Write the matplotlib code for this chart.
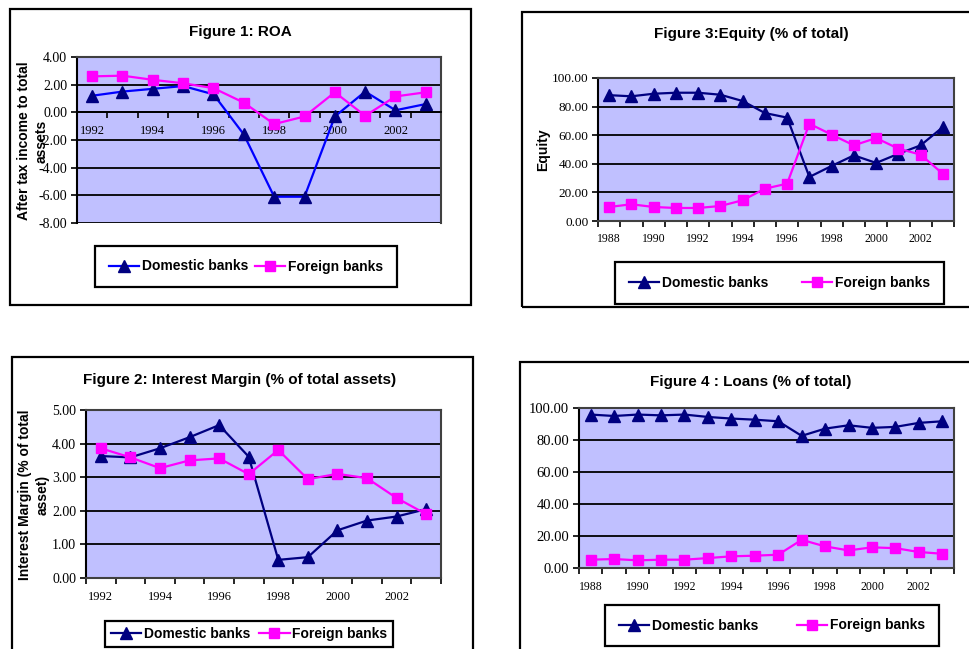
import matplotlib
matplotlib.use("Agg")
import matplotlib.pyplot as plt
from matplotlib.patches import Rectangle
from matplotlib.lines import Line2D
from matplotlib.ticker import FormatStrFormatter
import numpy as np

plt.rcParams['axes.unicode_minus'] = False
plt.rcParams['font.family'] = ['Liberation Serif', 'DejaVu Serif']

# ---- data ----
years_short = list(range(1992, 2004))
years_long = list(range(1988, 2004))

roa_domestic = [1.2, 1.5, 1.7, 1.9, 1.3, -1.6, -6.1, -6.1, -0.3, 1.5, 0.15, 0.6]
roa_foreign = [2.6, 2.65, 2.35, 2.1, 1.75, 0.7, -0.85, -0.3, 1.45, -0.25, 1.15, 1.45]

margin_domestic = [3.63, 3.59, 3.86, 4.19, 4.55, 3.61, 0.54, 0.62, 1.42, 1.71, 1.83, 2.05]
margin_foreign = [3.86, 3.59, 3.27, 3.50, 3.56, 3.09, 3.81, 2.94, 3.10, 2.97, 2.38, 1.90]

equity_domestic = [88, 87.2, 89, 89.7, 89.7, 88.3, 83.9, 75.5, 72.3, 30.8, 38.5, 45.9, 40.6, 47, 52.9, 65.7]
equity_foreign = [9.8, 11.7, 9.8, 9.1, 9.1, 10.5, 14.5, 22.6, 26.1, 68, 60.4, 52.9, 58, 50.6, 46.4, 33]

loans_domestic = [95.9, 95.0, 95.9, 95.4, 95.9, 94.4, 93.4, 92.7, 91.7, 82.6, 87.1, 89.2, 87.6, 88.2, 90.7, 91.7]
loans_foreign = [5.2, 5.6, 4.8, 5.2, 5.2, 6.2, 7.3, 7.7, 8.3, 17.6, 13.5, 11.0, 12.9, 12.4, 10.0, 8.9]

legend_labels = ['Domestic banks', 'Foreign banks']

W, H = 970, 649
fig = plt.figure(figsize=(W / 100, H / 100), dpi=100)

BG = '#C0C0FF'
NAVY = '#000080'
BLUE = '#0000FF'
MAG = '#FF00FF'
SANS = ['Liberation Sans', 'DejaVu Sans']


def box(x0, y0, x1, y1):
    # pixel corners (top-left origin) -> figure fraction rect
    return [x0 / W, 1 - y1 / H, (x1 - x0) / W, (y1 - y0) / H]


def panel(frame, plot, title, title_xy, years, dom, forg, ylim, ystep,
          ylabel, ylabel_xy, leg, dom_color=NAVY, zero_axis=False,
          xsize=9, ysize=10, legpad=1.0):
    r = box(*frame)
    fig.add_artist(Rectangle(r[:2], r[2], r[3], transform=fig.transFigure,
                             fill=False, ec='black', lw=1.6))
    ax = fig.add_axes(box(*plot))
    ax.set_facecolor(BG)
    x = np.arange(len(years))
    ax.plot(x, dom, color=dom_color, lw=1.6, marker='^', ms=8.5,
            mfc=NAVY, mec=NAVY, zorder=3)
    ax.plot(x, forg, color=MAG, lw=1.6, marker='s', ms=7,
            mfc=MAG, mec=MAG, zorder=3)

    ax.set_xlim(-0.5, len(years) - 0.5)
    ax.set_xticks(np.arange(-0.5, len(years), 1))
    ax.set_xticks(x[::2], minor=True)
    ax.set_xticklabels([str(y) for y in years[::2]], minor=True)
    ax.tick_params(axis='x', which='major', length=4, width=1.2,
                   direction='out', labelbottom=False)
    ax.tick_params(axis='x', which='minor', length=0, pad=9, labelsize=xsize)

    ax.set_ylim(*ylim)
    ax.set_yticks(np.arange(ylim[0], ylim[1] + ystep / 2, ystep))
    ax.yaxis.set_major_formatter(FormatStrFormatter('%.2f'))
    ax.tick_params(axis='y', length=4, width=1.2, direction='out',
                   pad=3, labelsize=ysize)

    ax.set_axisbelow(True)
    ax.yaxis.grid(True, color='black', lw=1.3)
    for s in ax.spines.values():
        s.set_color('#404040')
        s.set_linewidth(1.5)
    ax.spines['left'].set_color('black')
    if zero_axis:
        ax.spines['bottom'].set_position(('data', 0))
        ax.spines['bottom'].set_color('black')
        ax.spines['bottom'].set_linewidth(1.3)

    fig.text(title_xy[0] / W, 1 - title_xy[1] / H, title, ha='center',
             va='center', family=SANS, weight='bold', fontsize=11)
    if ylabel:
        fig.text(ylabel_xy[0] / W, 1 - ylabel_xy[1] / H, ylabel, rotation=90,
                 ha='center', va='center', multialignment='center',
                 family=SANS, weight='bold', fontsize=10, linespacing=1.3)

    handles = [Line2D([], [], color=dom_color, lw=1.6, marker='^', ms=8.5,
                      mfc=NAVY, mec=NAVY),
               Line2D([], [], color=MAG, lw=1.6, marker='s', ms=7,
                      mfc=MAG, mec=MAG)]
    lg = fig.legend(handles, legend_labels, loc='center',
                    bbox_to_anchor=box(*leg), bbox_transform=fig.transFigure,
                    mode='expand', ncol=2, fancybox=False, edgecolor='black',
                    framealpha=1, prop={'family': SANS, 'weight': 'bold', 'size': 10},
                    handlelength=2.2, handletextpad=0.2, borderpad=legpad)
    lg.get_frame().set_linewidth(1.6)
    return ax


panel((10, 9, 471, 305), (77, 57, 441, 223), 'Figure 1: ROA', (240, 32),
      years_short, roa_domestic, roa_foreign, (-8, 4), 2,
      'After tax income to total\nassets', (33, 141), (88, 246, 404, 287),
      dom_color=BLUE, zero_axis=True, xsize=9, ysize=10)

panel((522, 12, 990, 307), (598, 78, 954, 221), 'Figure 3:Equity (% of total)',
      (751, 34), years_long, equity_domestic, equity_foreign, (0, 100), 20,
      'Equity', (543, 150), (608, 263, 951, 303), xsize=8.5, ysize=9.5)

panel((12, 357, 473, 670), (86, 410, 441, 578),
      'Figure 2: Interest Margin (% of total assets)', (240, 380),
      years_short, margin_domestic, margin_foreign, (0, 5), 1,
      'Interest Margin (% of total\nasset)', (34, 495), (98, 620, 400, 648),
      xsize=9, ysize=10, legpad=0.4)

panel((520, 362, 990, 670), (579, 408, 954, 568), 'Figure 4 : Loans (% of total)',
      (751, 382), years_long, loans_domestic, loans_foreign, (0, 100), 20,
      None, None, (598, 607, 946, 644), xsize=8.5, ysize=10.5)

fig.savefig('out.png', dpi=100)
